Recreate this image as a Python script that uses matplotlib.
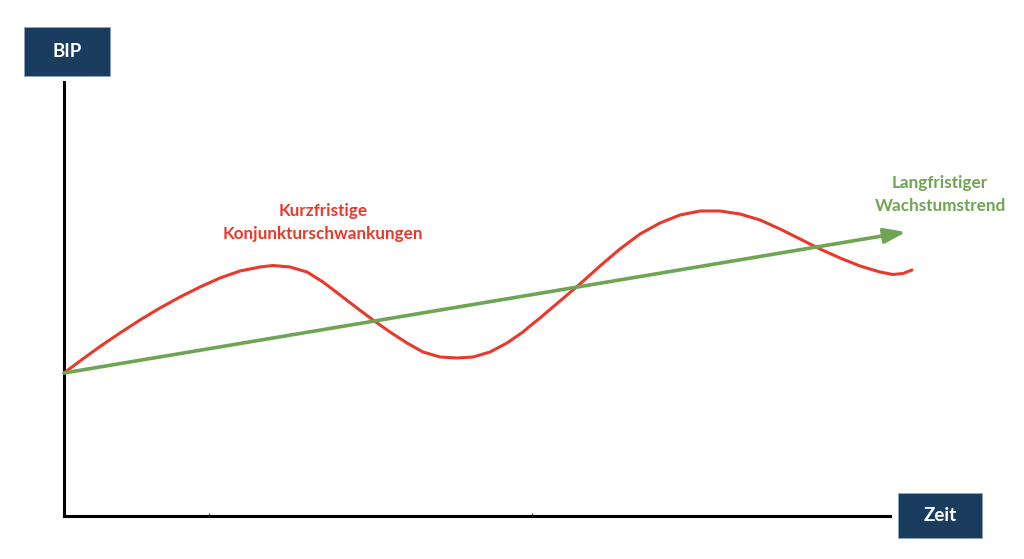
import matplotlib.pyplot as plt
from matplotlib.patches import Rectangle

plt.rcParams['font.family'] = ['Lato', 'DejaVu Sans']

# Konjunkturverlauf (x: Zeit, y: BIP, beliebige Einheiten)
zeit = [0, 16, 36, 56, 76, 96, 116, 136, 156, 176, 196, 209, 226,
        243, 259, 276, 293, 309, 326, 343, 359, 376, 393, 409, 426, 443, 459, 466,
        476, 496, 516, 536, 556, 576, 596, 616, 636, 656, 676,
        696, 716, 736, 756, 776, 796, 816, 829, 839, 848]
bip = [143, 155, 169.5, 183, 196, 208, 219, 229, 238, 245, 249, 250.5, 249,
       244, 234, 221, 208, 196, 184, 173, 164, 159, 158, 159, 164, 173, 184, 190,
       198, 215, 232, 250, 267, 282, 293, 301, 305, 305, 302,
       296, 287, 277, 267, 258, 250, 244, 241.5, 242.5, 246]

# Langfristiger Trend: Start- und Endpunkt
trend_x = [0, 842]
trend_y = [143, 284]

ticks_x = [145, 468]

red = '#e8392b'
green = '#6fa552'
navy = '#1a3d5f'

fig = plt.figure(figsize=(10.24, 5.59), dpi=100)
W, H = 1024, 559
ax = fig.add_axes([64 / W, (H - 516) / H, (890 - 64) / W, (516 - 82) / H])
ax.set_xlim(0, 826)
ax.set_ylim(0, 434)
for s in ['top', 'right']:
    ax.spines[s].set_visible(False)
for s in ['left', 'bottom']:
    ax.spines[s].set_linewidth(2.2)
    ax.spines[s].set_color('black')
ax.set_xticks(ticks_x)
ax.set_xticklabels([])
ax.set_yticks([])
ax.tick_params(axis='x', direction='in', length=2, width=1, color='#555555')

ax.plot(zeit, bip, color=red, lw=2.2, clip_on=False, solid_capstyle='round',
        solid_joinstyle='round', zorder=3)
ax.annotate('', xy=(trend_x[1], trend_y[1]), xytext=(trend_x[0], trend_y[0]),
            arrowprops=dict(arrowstyle='-|>,head_length=1.3,head_width=0.45',
                            color=green, lw=2.6, shrinkA=0, shrinkB=0),
            annotation_clip=False, zorder=4)

ax.text(259, 293.5, 'Kurzfristige\nKonjunkturschwankungen', color=red, fontsize=12.3,
        fontweight='bold', ha='center', va='center', linespacing=1.57)
ax.text(876, 321.5, 'Langfristiger\nWachstumstrend', color=green, fontsize=12.3,
        fontweight='bold', ha='center', va='center', linespacing=1.57, clip_on=False)

# Beschriftungskästen
for (x0, y0, x1, y1, label) in [(24, 27, 110, 76, 'BIP'), (898, 493, 982, 538, 'Zeit')]:
    fig.add_artist(Rectangle((x0 / W, 1 - y1 / H), (x1 - x0) / W, (y1 - y0) / H,
                             transform=fig.transFigure, facecolor=navy, edgecolor='#8fa6bd',
                             lw=0.6))
    fig.text((x0 + x1) / 2 / W, 1 - (y0 + y1) / 2 / H, label, color='white', fontsize=13.5,
             fontweight='bold', ha='center', va='center')

fig.savefig('out.png', dpi=100)
